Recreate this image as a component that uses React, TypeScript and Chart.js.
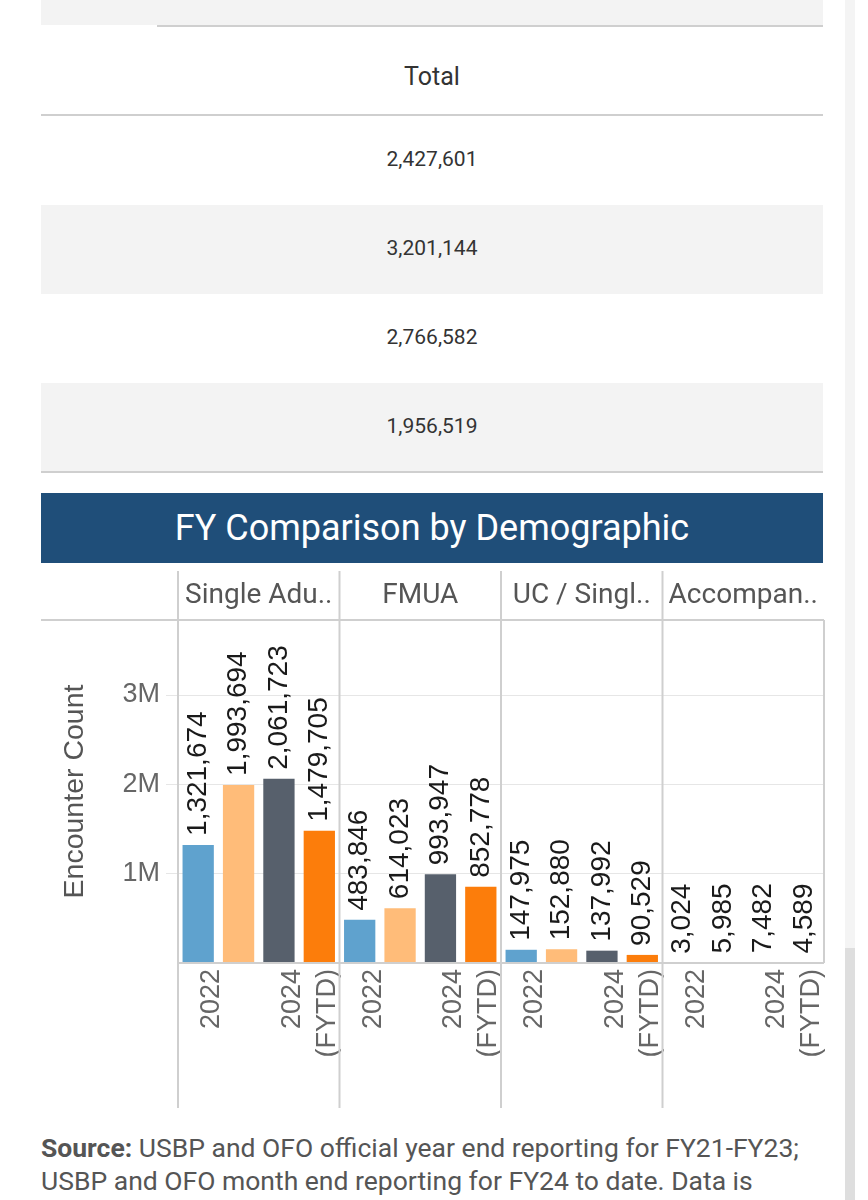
import { useEffect, useRef } from 'react';
import { Chart, registerables } from 'chart.js';

Chart.register(...registerables);

// Fiscal years shown in every panel (2024 is fiscal-year-to-date).
const years = ['2021', '2022', '2023', '2024 (FYTD)'];
const yearTickLines = [['2021'], ['2022'], ['2023'], ['2024', '(FYTD)']];
const shownYearTicks = ['2022', '2024 (FYTD)'];
const yearColors = ['#5fa2ce', '#ffbc79', '#57606c', '#fc7d0b'];

// Demographic panels, with the headers as they appear (truncated).
const demographicHeaders = ['Single Adu..', 'FMUA', 'UC / Singl..', 'Accompan..'];

// Encounter counts per fiscal year (2021, 2022, 2023, 2024 FYTD).
const singleAdults = [1321674, 1993694, 2061723, 1479705];
const fmua = [483846, 614023, 993947, 852778];
const ucSingleMinors = [147975, 152880, 137992, 90529];
const accompaniedMinors = [3024, 5985, 7482, 4589];

// Value axis.
const yAxisMax = 3840000;
const yTickValues = [0, 1000000, 2000000, 3000000];
const yTickLabels = ['', '1M', '2M', '3M'];

const seriesByDemographic = [singleAdults, fmua, ucSingleMinors, accompaniedMinors];

const fmt = (v: number) => v.toLocaleString('en-US');

// Yearly totals across all demographics, newest year first.
const totalsNewestFirst = years
  .map((_, yi) => seriesByDemographic.reduce((sum, s) => sum + s[yi], 0))
  .reverse();

const LABEL_FONT = '"Liberation Sans", Arial, Helvetica, sans-serif';
const UI_FONT = 'Roboto, "Noto Sans", sans-serif';

const panelPlugin = {
  id: 'panels',
  afterDatasetsDraw(chart: any) {
    const { ctx, chartArea } = chart;
    const { left, right, top, bottom } = chartArea;
    const x = chart.scales.x;
    const n = years.length;
    const line = (x1: number, y1: number, x2: number, y2: number) => {
      ctx.beginPath();
      ctx.moveTo(x1, y1);
      ctx.lineTo(x2, y2);
      ctx.stroke();
    };
    ctx.save();
    ctx.strokeStyle = '#cfcfcf';
    ctx.lineWidth = 2;
    line(41, top, right, top);
    line(left, bottom, right, bottom);
    line(right, top, right, bottom);
    for (let g = 0; g < demographicHeaders.length; g++) {
      const first = g * n;
      const bx =
        g === 0 ? left : (x.getPixelForValue(first - 1) + x.getPixelForValue(first)) / 2;
      line(bx, 6, bx, chart.height - 17);
    }
    ctx.restore();
  },
};

const valueLabelPlugin = {
  id: 'valueLabels',
  afterDatasetsDraw(chart: any) {
    const { ctx } = chart;
    const meta = chart.getDatasetMeta(0);
    const data = chart.data.datasets[0].data as number[];
    ctx.save();
    ctx.fillStyle = '#1a1a1a';
    ctx.font = `28px ${LABEL_FONT}`;
    ctx.textAlign = 'left';
    ctx.textBaseline = 'middle';
    meta.data.forEach((bar: any, i: number) => {
      ctx.save();
      ctx.translate(bar.x, bar.y - 9);
      ctx.rotate(-Math.PI / 2);
      ctx.fillText(fmt(data[i]), 0, 0);
      ctx.restore();
    });
    ctx.restore();
  },
};

function DemographicChart() {
  const ref = useRef<HTMLCanvasElement | null>(null);

  useEffect(() => {
    if (!ref.current) return;
    const labels = demographicHeaders.flatMap((d) => years.map((y) => `${d} ${y}`));
    const values = seriesByDemographic.flat();
    const colors = seriesByDemographic.flatMap(() => yearColors);

    const chart = new Chart(ref.current, {
      type: 'bar',
      data: {
        labels,
        datasets: [
          {
            data: values,
            backgroundColor: colors,
            borderWidth: 0,
            barPercentage: 0.775,
            categoryPercentage: 1,
          },
        ],
      },
      options: {
        animation: false,
        responsive: false,
        maintainAspectRatio: false,
        layout: { padding: { left: 40, right: 44, top: 0, bottom: 10 } },
        plugins: {
          legend: { display: false },
          tooltip: { enabled: false },
        },
        scales: {
          x: {
            type: 'category',
            position: 'bottom',
            offset: true,
            grid: { display: false, drawTicks: false },
            border: { display: false },
            ticks: {
              autoSkip: false,
              minRotation: 90,
              maxRotation: 90,
              padding: 6,
              labelOffset: -27,
              color: '#666666',
              font: { family: LABEL_FONT, size: 27, lineHeight: 1.3 },
              callback: (_v: any, index: number) => {
                const yi = index % years.length;
                return shownYearTicks.includes(years[yi]) ? yearTickLines[yi] : '';
              },
            },
            afterFit: (s: any) => {
              s.height = 152;
              s.paddingLeft = 0;
              s.paddingRight = 0;
            },
          },
          xTop: {
            type: 'category',
            labels: demographicHeaders,
            position: 'top',
            offset: true,
            grid: { display: false, drawTicks: false },
            border: { display: false },
            ticks: {
              autoSkip: false,
              maxRotation: 0,
              padding: 7,
              color: '#555555',
              font: { family: UI_FONT, size: 28 },
            },
            afterFit: (s: any) => {
              s.height = 55;
              s.paddingLeft = 0;
              s.paddingRight = 0;
            },
          },
          y: {
            type: 'linear',
            position: 'left',
            min: 0,
            max: yAxisMax,
            border: { display: false },
            afterBuildTicks: (s: any) => {
              s.ticks = yTickValues.map((value) => ({ value }));
            },
            grid: {
              drawTicks: true,
              tickLength: 12,
              lineWidth: 1,
              color: (c: any) =>
                c.tick && c.tick.value > 0 ? '#e6e6e6' : 'rgba(0,0,0,0)',
            },
            ticks: {
              autoSkip: false,
              padding: 6,
              color: '#666666',
              font: { family: LABEL_FONT, size: 27 },
              callback: (v: any) => {
                const i = yTickValues.indexOf(Number(v));
                return i >= 0 ? yTickLabels[i] : '';
              },
            },
            title: {
              display: true,
              text: 'Encounter Count',
              color: '#555555',
              font: { family: LABEL_FONT, size: 28.5 },
              padding: { top: 18, bottom: 0 },
            },
            afterFit: (s: any) => {
              s.width = 138;
            },
          },
        },
      } as any,
      plugins: [panelPlugin, valueLabelPlugin],
    });
    return () => chart.destroy();
  }, []);

  return (
    <canvas
      ref={ref}
      width={868}
      height={560}
      style={{ position: 'absolute', left: 0, top: 565, width: 868, height: 560 }}
    />
  );
}

const rowTops = [116, 205, 294, 383];

export default function App() {
  const rule = (left: number, top: number, width: number) => (
    <div
      style={{ position: 'absolute', left, top, width, height: 2, background: '#cfcfcf' }}
    />
  );
  return (
    <div
      style={{
        position: 'absolute',
        left: 0,
        top: 0,
        width: 868,
        height: 1200,
        overflow: 'hidden',
        background: '#ffffff',
        fontFamily: UI_FONT,
      }}
    >
      {/* table of yearly totals */}
      <div style={{ position: 'absolute', left: 41, top: 0, width: 782, height: 25, background: '#f3f3f3' }} />
      {rule(157, 25, 666)}
      <div
        style={{
          position: 'absolute',
          left: 41,
          top: 57,
          width: 782,
          height: 40,
          lineHeight: '40px',
          textAlign: 'center',
          fontSize: 25,
          color: '#333333',
        }}
      >
        Total
      </div>
      {rule(41, 114, 782)}
      {totalsNewestFirst.map((t, i) => (
        <div
          key={i}
          style={{
            position: 'absolute',
            left: 41,
            top: rowTops[i],
            width: 782,
            height: 89,
            lineHeight: '86px',
            textAlign: 'center',
            fontSize: 21,
            color: '#333333',
            background: i % 2 === 1 ? '#f3f3f3' : 'transparent',
          }}
        >
          {fmt(t)}
        </div>
      ))}
      {rule(41, 471, 782)}

      {/* title bar */}
      <div
        style={{
          position: 'absolute',
          left: 41,
          top: 493,
          width: 782,
          height: 70,
          lineHeight: '70px',
          background: '#1f4e79',
          color: '#ffffff',
          textAlign: 'center',
          fontSize: 36,
        }}
      >
        FY Comparison by Demographic
      </div>

      <DemographicChart />

      {/* source note */}
      <div
        style={{
          position: 'absolute',
          left: 41,
          top: 1131,
          width: 800,
          fontSize: 26.5,
          lineHeight: '33px',
          color: '#555555',
          whiteSpace: 'nowrap',
        }}
      >
        <div>
          <b>Source:</b> USBP and OFO official year end reporting for FY21-FY23;
        </div>
        <div>USBP and OFO month end reporting for FY24 to date. Data is</div>
      </div>

      {/* page scrollbar */}
      <div style={{ position: 'absolute', left: 845, top: 0, width: 10, height: 1200, background: '#f4f4f4' }} />
      <div style={{ position: 'absolute', left: 845, top: 948, width: 10, height: 252, background: '#dedede' }} />
    </div>
  );
}
